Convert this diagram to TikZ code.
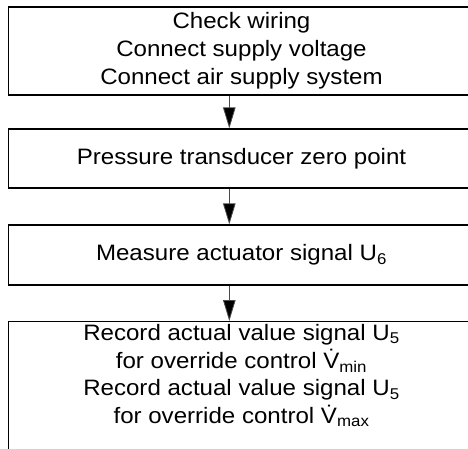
\documentclass[tikz,border=0pt]{standalone}
\usepackage{fontspec}
\setmainfont{Liberation Sans}[FakeStretch=1.08]
\usetikzlibrary{arrows.meta}
\tikzset{
  stepbox/.style={draw=black, line width=1.2pt, rectangle, minimum width=466pt, inner sep=0pt, align=center,
    font=\fontsize{22.3pt}{27.8pt}\selectfont},
  flowarrow/.style={draw=black!70, line width=0.8pt, -{Triangle[length=21pt,width=12.5pt,fill=black]}},
  boxtext/.style={inner sep=0pt, align=center, font=\fontsize{22.3pt}{27.8pt}\selectfont}
}
\begin{document}
\begin{tikzpicture}[x=1pt,y=1pt]
\useasboundingbox (0,0) rectangle (468,-448);
\clip (0,0) rectangle (468,-448);
\node[stepbox, minimum height=88pt] (b1) at (241.5,-51) {Check wiring\\Connect supply voltage\\Connect air supply system};
\node[stepbox, minimum height=59pt] (b2) at (241.5,-158.5) {Pressure transducer zero point};
\node[stepbox, minimum height=60pt] (b3) at (241.5,-255) {Measure actuator signal U\textsubscript{6}};
\node[stepbox, minimum height=150pt, anchor=north] (b4) at (241.5,-321) {};
\node[boxtext, anchor=north] (t4) at ([yshift=-3pt]b4.north) {Record actual value signal U\textsubscript{5}\\for override control \.{V}\textsubscript{min}\\Record actual value signal U\textsubscript{5}\\for override control \.{V}\textsubscript{max}};
\coordinate (ax) at (229.3,0);
\draw[flowarrow] (b1.south -| ax) -- (b2.north -| ax);
\draw[flowarrow] (b2.south -| ax) -- (b3.north -| ax);
\draw[flowarrow] (b3.south -| ax) -- (b4.north -| ax);
\end{tikzpicture}
\end{document}
